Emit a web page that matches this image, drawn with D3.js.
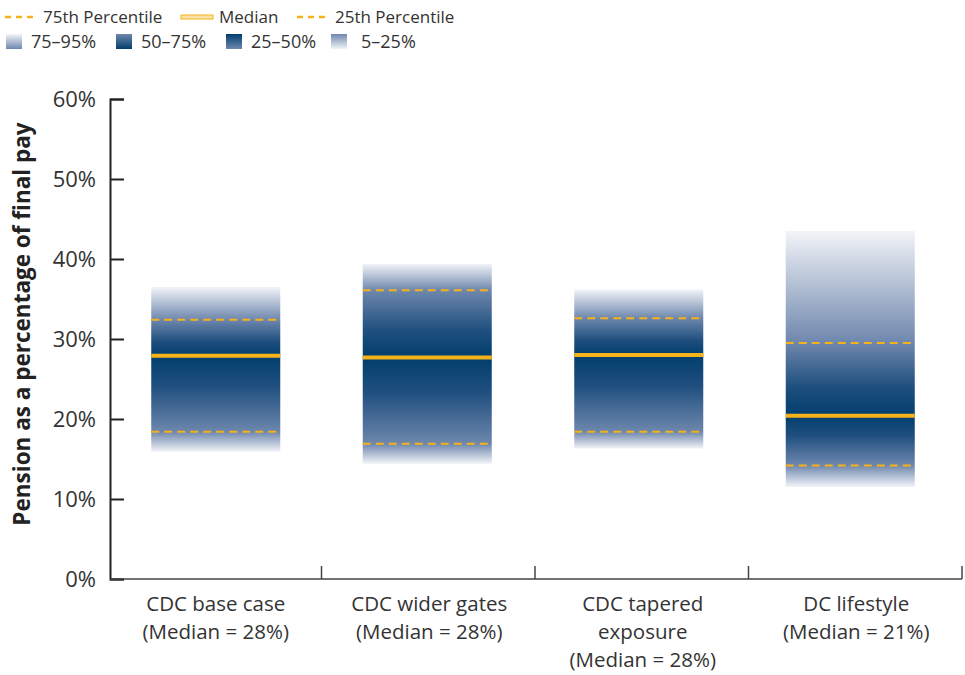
<!DOCTYPE html>
<html><head><meta charset="utf-8">
<script src="https://cdn.jsdelivr.net/npm/d3@7"></script>
<style>
body{margin:0;background:#fff;}
text{font-family:"Open Sans",sans-serif;fill:#333;}
</style></head>
<body><svg id="chart" width="965" height="675"></svg>
<script>
const categories = [["CDC base case","(Median = 28%)"],["CDC wider gates","(Median = 28%)"],["CDC tapered","exposure","(Median = 28%)"],["DC lifestyle","(Median = 21%)"]];
const p95 = [36.5, 39.4, 36.2, 43.5];
const p75 = [32.4, 36.1, 32.6, 29.5];
const p50 = [27.9, 27.7, 28.0, 20.4];
const p25 = [18.4, 16.9, 18.4, 14.2];
const p05 = [15.9, 14.4, 16.3, 11.5];
const yTicks = [0,10,20,30,40,50,60];
const lineLegend = ["75th Percentile","Median","25th Percentile"];
const bandLegend = ["75–95%","50–75%","25–50%","5–25%"];

const svg = d3.select("#chart");
const ORANGE = "#f5b21a", LIGHT = "#f2f4f8", MID = "#6e87ad", DARK = "#013e6d";

const x = d3.scaleBand().domain(d3.range(categories.length)).range([110, 956]).paddingInner(0.39).paddingOuter(0.195);
const xb = d3.scaleBand().domain(d3.range(categories.length)).range([108, 962]);
const y = d3.scaleLinear().domain([0, 60]).range([579, 99]);

const defs = svg.append("defs");
categories.forEach((c, i) => {
  const g = defs.append("linearGradient").attr("id", "g" + i)
    .attr("gradientUnits", "userSpaceOnUse").attr("x1", 0).attr("x2", 0)
    .attr("y1", y(p95[i])).attr("y2", y(p05[i]));
  const span = p95[i] - p05[i];
  const off = v => ((p95[i] - v) / span * 100) + "%";
  g.append("stop").attr("offset", "0%").attr("stop-color", LIGHT);
  g.append("stop").attr("offset", off(p75[i])).attr("stop-color", MID);
  g.append("stop").attr("offset", off((p75[i] + p50[i]) / 2 - (p75[i]-p50[i])*0.1)).attr("stop-color", "#1f4f7f");
  g.append("stop").attr("offset", off(p50[i])).attr("stop-color", DARK);
  g.append("stop").attr("offset", off((p50[i] + p25[i]) / 2 + (p50[i]-p25[i])*0.1)).attr("stop-color", "#1f4f7f");
  g.append("stop").attr("offset", off(p25[i])).attr("stop-color", MID);
  g.append("stop").attr("offset", "100%").attr("stop-color", LIGHT);
});
// legend swatch gradients
const sw = [[LIGHT, MID],[MID, DARK],[DARK, MID],[MID, LIGHT]];
sw.forEach((s, i) => {
  const g = defs.append("linearGradient").attr("id", "s" + i).attr("x1", 0).attr("x2", 0).attr("y1", 0).attr("y2", 1);
  g.append("stop").attr("offset", "0%").attr("stop-color", s[0]);
  g.append("stop").attr("offset", "100%").attr("stop-color", s[1]);
});

// bars
const bars = svg.append("g");
categories.forEach((c, i) => {
  const bx = x(i), bw = x.bandwidth();
  bars.append("rect").attr("x", bx).attr("width", bw)
    .attr("y", y(p95[i])).attr("height", y(p05[i]) - y(p95[i]))
    .attr("fill", `url(#g${i})`);
  [p75[i], p25[i]].forEach(v => {
    bars.append("line").attr("x1", bx).attr("x2", bx + bw).attr("y1", y(v)).attr("y2", y(v))
      .attr("stroke", ORANGE).attr("stroke-width", 2).attr("stroke-dasharray", "8,5");
  });
  bars.append("line").attr("x1", bx).attr("x2", bx + bw).attr("y1", y(p50[i])).attr("y2", y(p50[i]))
    .attr("stroke", ORANGE).attr("stroke-width", 4);
});

// y axis
const yAxis = svg.append("g").attr("transform", "translate(110,0)")
  .call(d3.axisRight(y).tickValues(yTicks).tickSize(14).tickFormat(() => ""));
yAxis.select(".domain").attr("stroke", "#222").attr("stroke-width", 2);
yAxis.selectAll(".tick line").attr("stroke", "#222").attr("stroke-width", 2);
svg.append("g").selectAll("text").data(yTicks).join("text")
  .attr("x", 96).attr("y", d => y(d)).attr("dy", "0.36em").attr("text-anchor", "end")
  .attr("font-size", 22).text(d => d + "%");

// x axis
const xAxis = svg.append("g").attr("transform", "translate(0,579)");
xAxis.append("line").attr("x1", 110).attr("x2", 962).attr("stroke", "#444").attr("stroke-width", 1.5);
xAxis.selectAll(".xt").data(d3.range(1, categories.length + 1)).join("line").attr("class", "xt")
  .attr("x1", d => d === categories.length ? 962 : xb(d)).attr("x2", d => d === categories.length ? 962 : xb(d))
  .attr("y1", 0).attr("y2", -13).attr("stroke", "#444").attr("stroke-width", 1.5);
categories.forEach((c, i) => {
  const cx = xb(i) + xb.bandwidth() / 2 + 1;
  const t = svg.append("text").attr("x", cx).attr("y", 611)
    .attr("text-anchor", "middle").attr("font-size", 20.5);
  c.forEach((ln, j) => t.append("tspan").attr("x", cx).attr("dy", j ? 28 : 0).text(ln));
});

// y title
svg.append("text").attr("transform", "translate(30,324) rotate(-90)").attr("text-anchor", "middle")
  .attr("font-size", 22.5).attr("font-weight", "bold").style("fill", "#222")
  .text("Pension as a percentage of final pay");

// legend row 1
const l1x = [5, 181, 297];
lineLegend.forEach((name, i) => {
  const g = svg.append("g").attr("transform", `translate(${l1x[i]},17)`);
  if (i === 1) {
    g.append("rect").attr("x", 0).attr("y", -2).attr("width", 32).attr("height", 4)
      .attr("fill", "#fbe3a8").attr("stroke", ORANGE).attr("stroke-width", 1);
  } else {
    g.append("line").attr("x1", 0).attr("x2", 32).attr("stroke", ORANGE).attr("stroke-width", 2.5).attr("stroke-dasharray", "6,5");
  }
  g.append("text").attr("x", 38).attr("dy", "0.36em").attr("font-size", 17).text(name);
});
// legend row 2
const l2x = [6, 116, 226, 331];
bandLegend.forEach((name, i) => {
  const g = svg.append("g").attr("transform", `translate(${l2x[i]},42)`);
  g.append("rect").attr("x", 0).attr("y", -8).attr("width", 16).attr("height", 15).attr("fill", `url(#s${i})`);
  g.append("text").attr("x", i === 3 ? 30 : 25).attr("dy", "0.36em").attr("font-size", 18).text(name);
});
</script></body></html>
